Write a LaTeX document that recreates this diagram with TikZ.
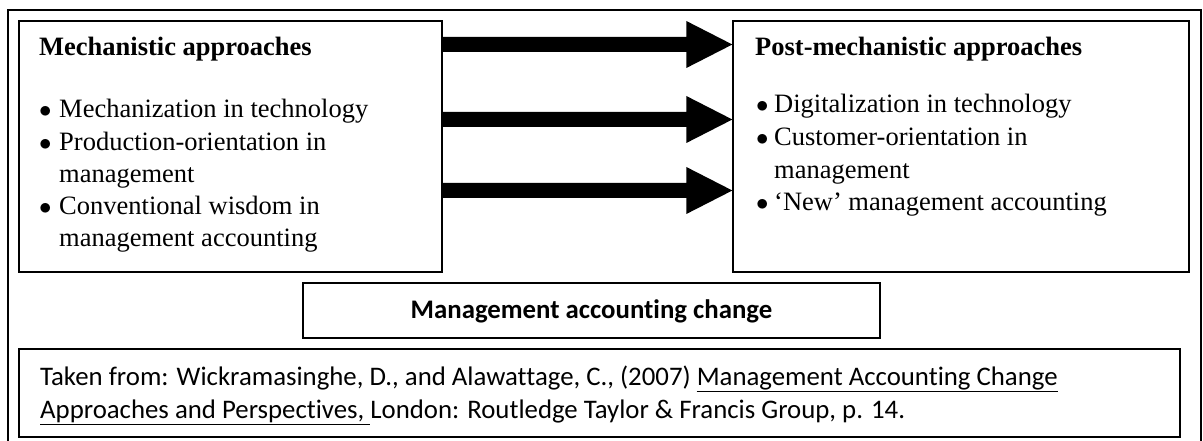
\documentclass[tikz,border=0pt]{standalone}
\usepackage{fontspec}
\setmainfont{Liberation Serif}
\newfontfamily\calfont[Ligatures=NoCommon]{Carlito}
\usetikzlibrary{calc}
\newcommand{\bulletmark}[1]{\makebox[#1][l]{$\bullet$}}
\begin{document}
\begin{tikzpicture}[x=1pt,y=-1pt,
  box/.style={draw, line width=1.3pt, rectangle, inner sep=0pt},
  ttl/.style={anchor=base west, inner sep=0pt, font=\fontsize{26.5}{32}\selectfont\bfseries},
  itm/.style={anchor=base west, inner sep=0pt, font=\fontsize{26.5}{32}\selectfont},
  cal/.style={anchor=base west, inner sep=0pt, font=\fontsize{26.8}{33}\selectfont\calfont},
  calb/.style={anchor=base, inner sep=0pt, font=\fontsize{26.8}{33}\selectfont\calfont\bfseries},
  arr/.style={fill=black},
]
\useasboundingbox (0,0) rectangle (1203,441);
% outer frame
\draw[line width=1.3pt] (8,450) -- (8,10) -- (1201,10) -- (1201,450);
% boxes
\node[box, minimum width=423pt, minimum height=251pt] (L) at (230.5,146.5) {};
\node[box, minimum width=456pt, minimum height=251pt] (R) at (961,146.5) {};
\node[box, minimum width=577pt, minimum height=55pt] (M) at (591.5,310.5) {};
\node[box, minimum width=1161pt, minimum height=88pt] (C) at (599.5,393) {};
% left text
\node[ttl] (Lt) at (39,56) {Mechanistic approaches};
\node[itm] (L1) at (39,118) {\bulletmark{20pt}Mechanization in technology};
\node[itm] (L2) at (39,150.25) {\bulletmark{20pt}Production-orientation in};
\node[itm] (L3) at (59,182.5) {management};
\node[itm] (L4) at (39,214.75) {\bulletmark{20pt}Conventional wisdom in};
\node[itm] (L5) at (59,247) {management accounting};
% right text
\node[ttl] (Rt) at (755,56) {Post-mechanistic approaches};
\node[itm] (R1) at (756,113) {\bulletmark{18pt}Digitalization in technology};
\node[itm] (R2) at (756,145.7) {\bulletmark{18pt}Customer-orientation in};
\node[itm] (R3) at (774,178.3) {management};
\node[itm] (R4) at (756,211) {\bulletmark{18pt}‘New’ management accounting};
% middle label
\node[calb] (Mt) at (591.5,318) {Management accounting change};
% citation
\node[cal] (C1) at (40,385) {Taken from: Wickramasinghe, D., and Alawattage, C., (2007) \underline{Management Accounting Change}};
\node[cal] (C2) at (40,418) {\underline{Approaches and Perspectives,\ }London: Routledge Taylor \& Francis Group, p. 14.};
% arrows
\coordinate (a1) at (0,44.5);
\coordinate (a2) at (0,119.5);
\coordinate (a3) at (0,190.5);
\foreach \a in {a1,a2,a3}{
  \fill[arr] ($(L.east|-\a)+(0,-7.5)$) -- ($(R.west|-\a)+(-46,-7.5)$) -- ($(R.west|-\a)+(-46,-23.5)$)
    -- (R.west|-\a) -- ($(R.west|-\a)+(-46,23.5)$) -- ($(R.west|-\a)+(-46,7.5)$) -- ($(L.east|-\a)+(0,7.5)$) -- cycle;
}
\end{tikzpicture}
\end{document}
